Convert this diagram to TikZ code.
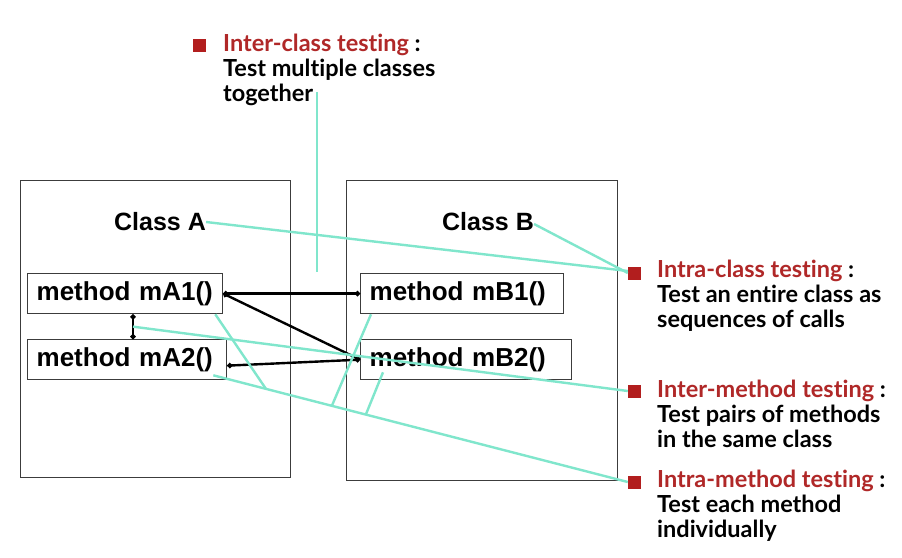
\documentclass[tikz,border=0pt]{standalone}
\usepackage{fontspec}
\setmainfont{Liberation Sans}
\newfontfamily\gill{Lato}[Ligatures=NoCommon]
\usetikzlibrary{arrows.meta,calc}
\definecolor{cyanln}{RGB}{128,230,204}
\definecolor{bulletred}{RGB}{178,30,30}
\definecolor{titlered}{RGB}{176,40,40}
\definecolor{boxgray}{RGB}{60,60,60}
\newcommand{\methfont}{\bfseries\fontsize{26}{30}\selectfont}
\newcommand{\clsfont}{\bfseries\fontsize{25}{30}\selectfont}
\newcommand{\descfont}{\gill\bfseries\fontsize{23.5}{25}\selectfont}
\begin{document}
\begin{tikzpicture}[x=1pt,y=-1pt,
  classbox/.style={draw=boxgray,line width=1.3pt,anchor=north west,inner sep=0pt},
  methbox/.style={draw=boxgray,line width=1.3pt,anchor=north west,minimum height=40pt,
    inner xsep=9pt,inner ysep=0pt,text width=#1,align=left,font=\methfont},
  lbl/.style={inner sep=0pt,font=\clsfont},
  bul/.style={fill=bulletred,minimum size=13pt,inner sep=0pt},
  desc/.style={inner sep=0pt,align=left,anchor=base west,font=\descfont},
  blk/.style={line width=2.4pt,black,{Circle[length=5pt,width=5pt]}-{Circle[length=5pt,width=5pt]}},
  cy/.style={line width=2.4pt,cyanln}
]
\useasboundingbox (0,0) rectangle (902,557);
\fill[white] (0,0) rectangle (902,557);
% classes
\node[classbox,minimum width=270pt,minimum height=297pt] (A) at (20,180) {};
\node[classbox,minimum width=271pt,minimum height=300pt] (B) at (346,180) {};
\node[lbl] (clsA) at (160,222) {Class A};
\node[lbl] (clsB) at (488,222) {Class B};
% methods
\node[methbox=177pt] (mA1) at (27,273) {method mA1()};
\node[methbox=181pt] (mA2) at (27,339) {method mA2()};
\node[methbox=185pt] (mB1) at (360,273) {method mB1()};
\node[methbox=193pt] (mB2) at (360,339) {method mB2()};
% bullets and descriptions
\node[bul] (bInterC) at (199.5,45) {};
\node[desc] (tInterC) at (223,101) {\textcolor{titlered}{Inter-class testing} :\\Test multiple classes\\together};
\node[bul] (bIntraC) at (634.5,273) {};
\node[desc] (tIntraC) at (657,327) {\textcolor{titlered}{Intra-class testing} :\\Test an entire class as\\sequences of calls};
\node[bul] (bInterM) at (634.5,391) {};
\node[desc] (tInterM) at (657,447) {\textcolor{titlered}{Inter-method testing} :\\Test pairs of methods\\in the same class};
\node[bul] (bIntraM) at (634.5,482) {};
\node[desc] (tIntraM) at (657,537) {\textcolor{titlered}{Intra-method testing} :\\Test each method\\individually};
% black connectors
\coordinate (vx) at (133,0);
\draw[blk] (mA1.east) -- (mB1.west);
\draw[blk] (mA1.east) -- (mB2.west);
\draw[blk] ([yshift=-6pt]mA2.east) -- (mB2.west);
\draw[blk] (mA1.south -| vx) -- (mA2.north -| vx);
% cyan connectors
\coordinate (vmid) at ($(mA1.south -| vx)!0.5!(mA2.north -| vx)$);
\coordinate (icTop) at (317,92);
\coordinate (icBot) at (317,272);
\draw[cy] (icTop) -- (icBot);
\draw[cy] (clsA.east) -- ([yshift=2pt]bIntraC.west);
\draw[cy] ([yshift=-2pt]clsB.east) -- (bIntraC.west);
\draw[cy] (vmid) -- (bInterM.west);
\coordinate (imS) at ([xshift=-14pt,yshift=5pt]mA2.south east);
\draw[cy] (imS) -- (bIntraM.west)
  coordinate[pos=0.127] (j1) coordinate[pos=0.286] (j2) coordinate[pos=0.368] (j3);
\draw[cy] ([xshift=-8pt]mA1.south east) -- (j1);
\draw[cy] ([xshift=11pt]mB1.south west) -- (j2);
\draw[cy] ([xshift=23pt,yshift=8pt]mB2.south west) -- (j3);
\end{tikzpicture}
\end{document}
